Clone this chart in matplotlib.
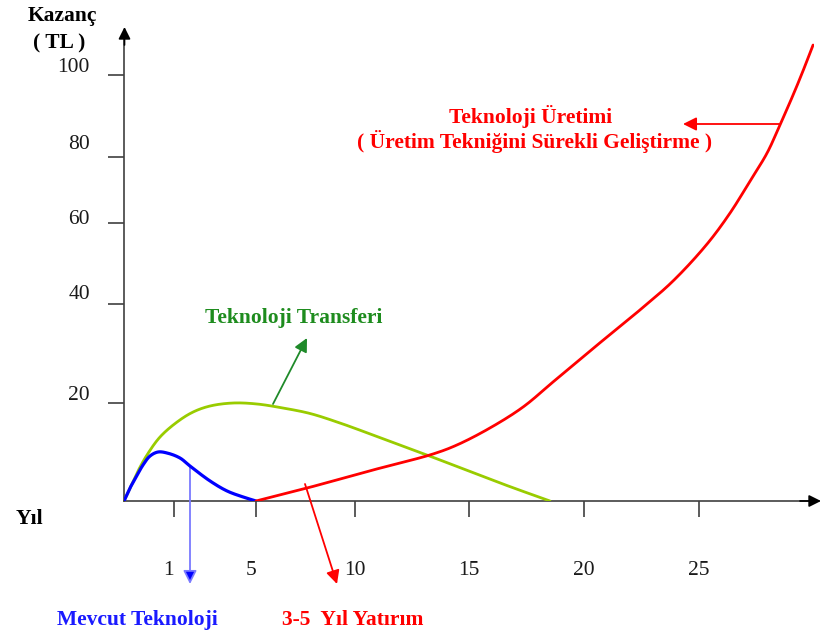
import numpy as np
import matplotlib
matplotlib.use("Agg")
import matplotlib.pyplot as plt

# ---------------- data ----------------
x_ticks = [1, 5, 10, 15, 20, 25]
y_ticks = [20, 40, 60, 80, 100]

mevcut_x = [0, 0.12, 0.22, 0.38, 0.52, 0.68, 0.86, 1.29, 1.78, 2.76, 3.59, 4.37, 5.0]
mevcut_y = [0, 2.65, 4.49, 7.35, 9.18, 10.0, 9.80, 8.78, 7.14, 4.08, 2.04, 0.82, 0]

transfer_x = [0, 0.14, 0.28, 0.46, 0.72, 1.15, 1.93, 2.76, 3.88, 5.05, 6.36, 7.73,
              9.24, 10.79, 12.28, 13.73, 15.17, 16.65, 18.52]
transfer_y = [0, 3.06, 6.12, 9.39, 13.06, 16.12, 18.16, 19.39, 20.0, 19.8, 18.98,
              17.86, 15.92, 13.47, 10.92, 8.37, 5.82, 3.16, 0]

uretim_x = [5.0, 7.58, 10.79, 13.42, 14.47, 15.91, 17.35, 18.65, 20.26, 22.43,
            23.87, 25.35, 26.35, 27.22, 27.96, 28.48, 29.09, 29.52, 29.96]
uretim_y = [0, 2.65, 6.33, 9.59, 11.43, 14.90, 19.18, 24.24, 30.51, 38.79,
            45.68, 54.81, 63.03, 72.73, 80.98, 87.32, 95.12, 100.98, 107.32]

# ---------------- axis calibration (the drawing's uneven spacing) ----------------
X_KNOT_VAL = [-5, 0, 1, 5, 10, 15, 20, 25, 60]
X_KNOT_POS = [-126, 124, 174, 256, 355, 469, 584, 699, 1504]
Y_KNOT_VAL = [-50, 0, 20, 40, 60, 80, 100, 200]
Y_KNOT_POS = [-245, 0, 98, 197, 278, 344, 426, 836]

def fx(v):
    return np.interp(np.asarray(v, dtype=float), X_KNOT_VAL, X_KNOT_POS)

def ix(p):
    return np.interp(np.asarray(p, dtype=float), X_KNOT_POS, X_KNOT_VAL)

def fy(v):
    return np.interp(np.asarray(v, dtype=float), Y_KNOT_VAL, Y_KNOT_POS)

def iy(p):
    return np.interp(np.asarray(p, dtype=float), Y_KNOT_POS, Y_KNOT_VAL)


def smooth(xv, yv, n=30, alpha=0.5):
    """Centripetal Catmull-Rom spline through the points, in drawn space."""
    P = np.column_stack([fx(xv), fy(yv)])
    P = np.vstack([2 * P[0] - P[1], P, 2 * P[-1] - P[-2]])
    out = []
    for i in range(1, len(P) - 2):
        p0, p1, p2, p3 = P[i - 1], P[i], P[i + 1], P[i + 2]
        t0 = 0.0
        t1 = t0 + np.linalg.norm(p1 - p0) ** alpha
        t2 = t1 + np.linalg.norm(p2 - p1) ** alpha
        t3 = t2 + np.linalg.norm(p3 - p2) ** alpha
        t = np.linspace(t1, t2, n, endpoint=False)[:, None]
        A1 = (t1 - t) / (t1 - t0) * p0 + (t - t0) / (t1 - t0) * p1
        A2 = (t2 - t) / (t2 - t1) * p1 + (t - t1) / (t2 - t1) * p2
        A3 = (t3 - t) / (t3 - t2) * p2 + (t - t2) / (t3 - t2) * p3
        B1 = (t2 - t) / (t2 - t0) * A1 + (t - t0) / (t2 - t0) * A2
        B2 = (t3 - t) / (t3 - t1) * A2 + (t - t1) / (t3 - t1) * A3
        C = (t2 - t) / (t2 - t1) * B1 + (t - t1) / (t2 - t1) * B2
        out.append(C)
    out.append(P[-2][None, :])
    S = np.vstack(out)
    return ix(S[:, 0]), iy(S[:, 1])


W, H = 822, 634
plt.rcParams['font.family'] = ['Liberation Serif', 'DejaVu Serif']

fig = plt.figure(figsize=(W / 100, H / 100), dpi=100)
ax = fig.add_axes([124 / W, 133 / H, 690 / W, 469 / H])
ax.set_xscale('function', functions=(fx, ix))
ax.set_yscale('function', functions=(fy, iy))
ax.set_xlim(0, 30)
ax.set_ylim(0, 110.5)

for s in ['top', 'right']:
    ax.spines[s].set_visible(False)
for s in ['left', 'bottom']:
    ax.spines[s].set_color('#404040')
    ax.spines[s].set_linewidth(1.2)

ax.set_xticks(x_ticks)
ax.set_yticks(y_ticks)
ax.minorticks_off()
ax.tick_params(axis='both', direction='out', length=11.5, width=1.2,
               color='#404040', labelbottom=False, labelleft=False)

# curves
bx, by = smooth(mevcut_x, mevcut_y)
gx, gy = smooth(transfer_x, transfer_y)
rx, ry = smooth(uretim_x, uretim_y)
ax.plot(gx, gy, color='#99CC00', lw=2.0, solid_capstyle='round', zorder=3)
ax.plot(bx, by, color='#0000FF', lw=2.3, solid_capstyle='round', zorder=4)
ax.plot(rx, ry, color='#FF0000', lw=2.0, solid_capstyle='round', zorder=4)

# tick labels
xlab_dx = {1: -6, 5: -5}
for v in x_ticks:
    ax.annotate(str(v), xy=(v, H - 568), xycoords=('data', 'figure pixels'),
                xytext=(xlab_dx.get(v, 0) * 0.72, 0), textcoords='offset points',
                ha='center', va='center_baseline', fontsize=15.5, color='#1a1a1a')
ylab_dy = {100: 10, 80: 15, 60: 6, 40: 12, 20: 10}
for v in y_ticks:
    ax.annotate(str(v), xy=(90, v), xycoords=('figure pixels', 'data'),
                xytext=(0, ylab_dy[v] * 0.72), textcoords='offset points',
                ha='right', va='center_baseline', fontsize=15.5, color='#1a1a1a')

# arrows
def arrow(start, end, color, lw=1.2, ms=20, ec=None):
    props = dict(arrowstyle='-|>', color=color, lw=lw, mutation_scale=ms,
                 shrinkA=0, shrinkB=0)
    if ec is not None:
        props = dict(arrowstyle='-|>', lw=lw, mutation_scale=ms, shrinkA=0,
                     shrinkB=0, fc=color, ec=ec)
    ax.annotate('', xy=(end[0], H - end[1]), xytext=(start[0], H - start[1]),
                xycoords='figure pixels', textcoords='figure pixels',
                arrowprops=props, annotation_clip=False)

arrow((124.5, 45), (124.5, 27), 'black', lw=1.2, ms=18)
arrow((800, 501), (821, 501), 'black', lw=1.2, ms=18)

arrow((190, 466), (190, 584), '#0000FF', lw=1.3, ms=20, ec='#7a7aff')
arrow((305, 484), (337, 584), '#FF0000', lw=1.3, ms=20)
arrow((779, 124), (683, 124), '#FF0000', lw=1.3, ms=20)
arrow((273, 404), (307, 338), '#1f8a2a', lw=1.3, ms=20)

# texts
def ftext(x, y, s, color, **kw):
    fig.text(x / W, 1 - y / H, s, color=color, ha='center', va='center',
             fontsize=15.5, fontweight='bold', **kw)

ftext(62, 16, 'Kazanç', 'black')
ftext(59, 43, '( TL )', 'black')
ftext(29, 519, 'Yıl', 'black')
ftext(137, 620, 'Mevcut Teknoloji', '#1a1aff')
ftext(353, 620, '3-5  Yıl Yatırım', '#FF0000')
ftext(531, 116, 'Teknoloji Üretimi', '#FF0000')
ftext(535, 142, '( Üretim Tekniğini Sürekli Geliştirme )', '#FF0000')
ftext(294, 318, 'Teknoloji Transferi', '#1e8c1e')

fig.savefig('out.png', dpi=100)
